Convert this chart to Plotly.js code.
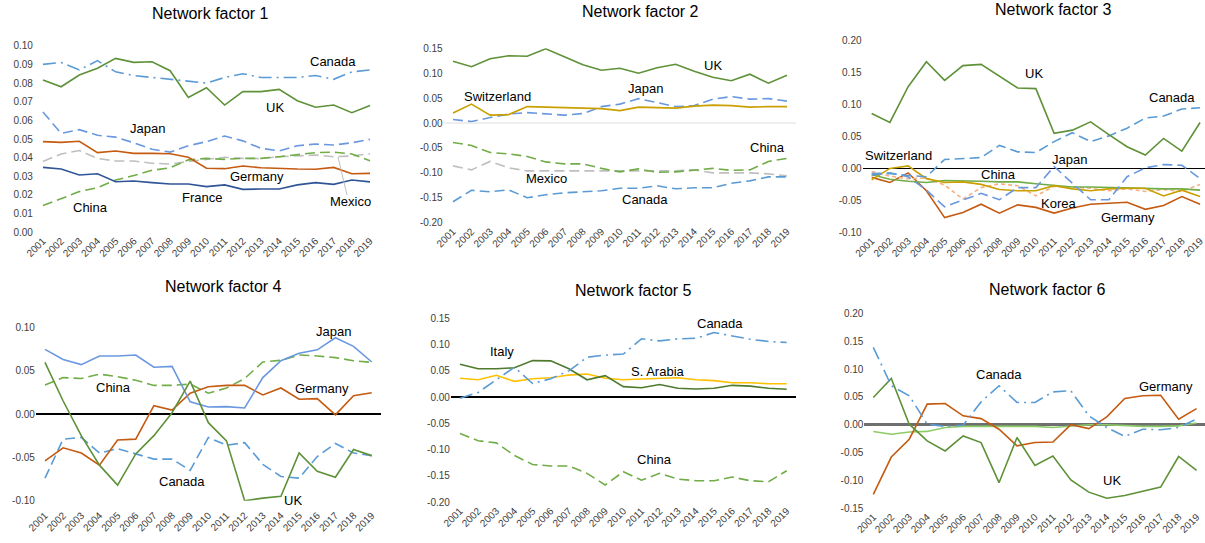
<!DOCTYPE html>
<html>
<head>
<meta charset="utf-8">
<script src="https://cdn.plot.ly/plotly-3.0.1.min.js"></script>
<style>html,body{margin:0;padding:0;background:#fff;}#chart{width:1205px;height:543px;}</style>
</head>
<body>
<div id="chart"></div>
<script>
// ---------- Data ----------
const years = [2001,2002,2003,2004,2005,2006,2007,2008,2009,2010,2011,2012,2013,2014,2015,2016,2017,2018,2019];
const yearLabels = ["2001","2002","2003","2004","2005","2006","2007","2008","2009","2010","2011","2012","2013","2014","2015","2016","2017","2018","2019"];

// Network factor 1
const f1Canada  = [0.090,0.091,0.087,0.092,0.086,0.084,0.083,0.082,0.081,0.080,0.083,0.085,0.083,0.083,0.083,0.084,0.082,0.086,0.087];
const f1UK      = [0.0816,0.078,0.0843,0.0879,0.0932,0.0911,0.0914,0.0866,0.0723,0.0775,0.0682,0.0754,0.0754,0.0766,0.0705,0.067,0.0682,0.0641,0.068];
const f1Japan   = [0.0645,0.053,0.055,0.052,0.051,0.048,0.0445,0.043,0.0464,0.0486,0.0516,0.049,0.045,0.0436,0.0464,0.0473,0.0468,0.048,0.0498];
const f1Germany = [0.0486,0.0482,0.0488,0.0427,0.0436,0.0423,0.0423,0.0421,0.0402,0.0343,0.0341,0.0355,0.0346,0.0341,0.0339,0.0338,0.0348,0.0314,0.0316];
const f1Mexico  = [0.038,0.042,0.0438,0.0396,0.0382,0.0382,0.037,0.0366,0.0379,0.0391,0.0402,0.0396,0.0395,0.0405,0.0409,0.0414,0.0405,0.0409,0.0421];
const f1China   = [0.0143,0.0179,0.0218,0.0239,0.028,0.0304,0.0332,0.0346,0.0388,0.0396,0.0391,0.0396,0.0396,0.0405,0.0414,0.0427,0.043,0.042,0.0384];
const f1France  = [0.0348,0.0339,0.0307,0.0314,0.0271,0.0275,0.0266,0.0259,0.0259,0.0245,0.0254,0.023,0.0232,0.0232,0.0254,0.0266,0.0257,0.028,0.027];

// Network factor 2
const f2UK          = [0.124,0.113,0.129,0.135,0.134,0.149,0.133,0.117,0.106,0.110,0.100,0.111,0.118,0.104,0.092,0.085,0.098,0.080,0.096];
const f2Switzerland = [0.020,0.038,0.016,0.017,0.033,0.032,0.031,0.031,0.029,0.025,0.032,0.031,0.030,0.034,0.036,0.035,0.032,0.033,0.033];
const f2Japan       = [0.007,0.003,0.011,0.018,0.021,0.018,0.016,0.019,0.033,0.038,0.049,0.041,0.033,0.035,0.048,0.053,0.048,0.049,0.044];
const f2China       = [-0.039,-0.045,-0.059,-0.062,-0.067,-0.078,-0.082,-0.082,-0.091,-0.098,-0.092,-0.099,-0.098,-0.094,-0.091,-0.095,-0.094,-0.077,-0.071];
const f2Mexico      = [-0.086,-0.094,-0.077,-0.090,-0.096,-0.096,-0.096,-0.096,-0.096,-0.096,-0.096,-0.096,-0.096,-0.094,-0.100,-0.100,-0.100,-0.102,-0.106];
const f2Canada      = [-0.158,-0.135,-0.138,-0.134,-0.150,-0.144,-0.140,-0.138,-0.136,-0.131,-0.131,-0.126,-0.132,-0.130,-0.130,-0.121,-0.116,-0.108,-0.108];

// Network factor 3
const f3UK          = [0.086,0.072,0.128,0.167,0.138,0.161,0.163,0.144,0.126,0.125,0.055,0.060,0.073,0.053,0.034,0.021,0.047,0.027,0.072];
const f3Canada      = [-0.010,-0.008,-0.011,-0.013,0.014,0.015,0.017,0.036,0.026,0.025,0.042,0.056,0.042,0.051,0.063,0.079,0.082,0.093,0.095];
const f3Japan       = [-0.008,-0.007,-0.013,-0.034,-0.060,-0.050,-0.039,-0.049,-0.030,-0.030,0.003,-0.023,-0.049,-0.049,-0.013,0.001,0.006,0.005,-0.016];
const f3China       = [-0.010,-0.017,-0.020,-0.022,-0.019,-0.019,-0.020,-0.021,-0.021,-0.024,-0.027,-0.029,-0.029,-0.030,-0.031,-0.031,-0.032,-0.032,-0.034];
const f3Switzerland = [-0.018,0.000,0.004,-0.016,-0.022,-0.021,-0.025,-0.033,-0.035,-0.035,-0.027,-0.032,-0.035,-0.032,-0.031,-0.031,-0.043,-0.034,-0.044];
const f3Korea       = [-0.005,-0.012,-0.016,-0.015,-0.026,-0.048,-0.030,-0.024,-0.027,-0.043,-0.028,-0.030,-0.031,-0.035,-0.032,-0.036,-0.033,-0.036,-0.025];
const f3Germany     = [-0.014,-0.022,-0.007,-0.035,-0.077,-0.069,-0.056,-0.070,-0.057,-0.061,-0.070,-0.062,-0.056,-0.054,-0.053,-0.064,-0.058,-0.044,-0.056];

// Network factor 4
const f4Japan   = [0.0746,0.063,0.057,0.067,0.067,0.068,0.054,0.055,0.014,0.008,0.0085,0.007,0.042,0.0615,0.070,0.074,0.088,0.078,0.060];
const f4China   = [0.0335,0.042,0.041,0.046,0.043,0.039,0.033,0.033,0.0345,0.024,0.030,0.041,0.060,0.062,0.068,0.067,0.065,0.0615,0.0595];
const f4Germany = [-0.054,-0.039,-0.045,-0.059,-0.030,-0.029,0.0096,0.0046,0.024,0.0315,0.033,0.033,0.022,0.030,0.017,0.0177,-0.001,0.021,0.0246];
const f4UK      = [0.0596,0.015,-0.025,-0.059,-0.082,-0.046,-0.025,0.0015,0.038,-0.010,-0.031,-0.100,-0.097,-0.095,-0.045,-0.066,-0.073,-0.041,-0.048];
const f4Canada  = [-0.074,-0.029,-0.027,-0.045,-0.040,-0.046,-0.052,-0.052,-0.065,-0.027,-0.036,-0.033,-0.058,-0.072,-0.074,-0.049,-0.034,-0.045,-0.048];

// Network factor 5
const f5Canada   = [-0.002,0.009,0.033,0.057,0.026,0.035,0.050,0.076,0.080,0.082,0.111,0.107,0.111,0.112,0.123,0.116,0.110,0.106,0.104];
const f5Italy    = [0.0625,0.054,0.054,0.056,0.0695,0.069,0.054,0.033,0.041,0.020,0.018,0.024,0.017,0.0155,0.017,0.0225,0.021,0.017,0.015];
const f5SArabia  = [0.036,0.033,0.0415,0.030,0.035,0.037,0.042,0.044,0.036,0.033,0.0345,0.036,0.037,0.033,0.0315,0.0275,0.0275,0.0255,0.0255];
const f5China    = [-0.069,-0.083,-0.087,-0.111,-0.128,-0.131,-0.131,-0.145,-0.167,-0.142,-0.158,-0.145,-0.156,-0.159,-0.159,-0.152,-0.159,-0.161,-0.140];

// Network factor 6
const f6Canada  = [0.139,0.070,0.052,0.001,-0.003,-0.001,0.041,0.070,0.040,0.040,0.059,0.061,0.016,-0.005,-0.021,-0.008,-0.009,-0.005,0.010];
const f6Germany = [-0.125,-0.058,-0.026,0.037,0.038,0.016,0.011,-0.008,-0.038,-0.032,-0.031,0.000,-0.007,0.014,0.047,0.052,0.053,0.010,0.029];
const f6UK      = [0.049,0.083,0.001,-0.029,-0.047,-0.020,-0.032,-0.104,-0.023,-0.073,-0.056,-0.099,-0.121,-0.132,-0.127,-0.120,-0.112,-0.057,-0.082];
const f6Other   = [-0.012,-0.017,-0.013,-0.012,-0.005,-0.003,-0.003,-0.003,-0.003,-0.003,-0.005,-0.002,0.000,0.000,-0.002,-0.003,-0.003,-0.002,0.003];

// Tick labels
const ticks1 = [0,0.01,0.02,0.03,0.04,0.05,0.06,0.07,0.08,0.09,0.10];
const ticks1Text = ["0.00","0.01","0.02","0.03","0.04","0.05","0.06","0.07","0.08","0.09","0.10"];
const ticks2 = [-0.20,-0.15,-0.10,-0.05,0,0.05,0.10,0.15];
const ticks2Text = ["-0.20","-0.15","-0.10","-0.05","0.00","0.05","0.10","0.15"];
const ticks3 = [-0.10,-0.05,0,0.05,0.10,0.15,0.20];
const ticks3Text = ["-0.10","-0.05","0.00","0.05","0.10","0.15","0.20"];
const ticks4 = [-0.10,-0.05,0,0.05,0.10];
const ticks4Text = ["-0.10","-0.05","0.00","0.05","0.10"];
const ticks6 = [-0.15,-0.10,-0.05,0,0.05,0.10,0.15,0.20];
const ticks6Text = ["-0.15","-0.10","-0.05","0.00","0.05","0.10","0.15","0.20"];

// ---------- Styles ----------
const C = {
  canada: '#5B9BD5', ukGreen: '#5E9138', chinaGreen: '#70AD47', germany: '#C55A11',
  mexico: '#BFBFBF', france: '#2F5597', japan: '#6A98E0', swiss: '#C9A000',
  korea: '#F4B183', sarabia: '#FFC000', italy: '#4E7A2E', lightGreen: '#8CCB66'
};
const DASH = '10px,5px';
const SHORTDASH = '4px,3px';
const DASHDOT = '13px,5px,2px,5px';
const W = 1.6;
function tr(n, y, color, dash) {
  return {x: years, y: y, xaxis: 'x' + (n === 1 ? '' : n), yaxis: 'y' + (n === 1 ? '' : n),
    type: 'scatter', mode: 'lines', line: {color: color, width: W, dash: dash || 'solid'},
    hoverinfo: 'skip', showlegend: false};
}

const traces = [
  tr(1, f1Mexico, C.mexico, DASH),
  tr(1, f1China, C.chinaGreen, DASH),
  tr(1, f1France, C.france),
  tr(1, f1Germany, C.germany),
  tr(1, f1Japan, C.japan, DASH),
  tr(1, f1UK, C.ukGreen),
  tr(1, f1Canada, C.canada, DASHDOT),

  tr(2, f2Mexico, C.mexico, DASH),
  tr(2, f2China, C.chinaGreen, DASH),
  tr(2, f2Canada, C.canada, DASH),
  tr(2, f2Japan, C.japan, DASH),
  tr(2, f2Switzerland, C.swiss),
  tr(2, f2UK, C.ukGreen),

  tr(3, f3Germany, C.germany),
  tr(3, f3Korea, C.korea, SHORTDASH),
  tr(3, f3China, C.chinaGreen),
  tr(3, f3Switzerland, C.swiss),
  tr(3, f3Japan, C.japan, DASH),
  tr(3, f3Canada, C.canada, DASH),
  tr(3, f3UK, C.ukGreen),

  tr(4, f4China, C.chinaGreen, DASH),
  tr(4, f4Canada, C.canada, DASH),
  tr(4, f4Germany, C.germany),
  tr(4, f4Japan, C.japan),
  tr(4, f4UK, C.ukGreen),

  tr(5, f5China, C.chinaGreen, DASH),
  tr(5, f5SArabia, C.sarabia),
  tr(5, f5Italy, C.italy),
  tr(5, f5Canada, C.canada, DASHDOT),

  tr(6, f6Other, C.lightGreen),
  tr(6, f6Germany, C.germany),
  tr(6, f6UK, C.ukGreen),
  tr(6, f6Canada, C.canada, DASHDOT)
];

const tickFont = {family: 'Liberation Sans, Arial, sans-serif', size: 10, color: '#404040'};
function xa(domain, range) {
  return {domain: domain, range: range || [2000.5, 2019.5], tickmode: 'array', tickvals: years, ticktext: yearLabels,
    tickangle: -45, showgrid: false, zeroline: false, showline: false, ticks: '', tickfont: tickFont,
    ticklabeloverflow: 'allow', fixedrange: true};
}
function ya(n, domain, range, tv, tt, zl) {
  const a = {domain: domain, range: range, tickmode: 'array', tickvals: tv, ticktext: tt,
    showgrid: false, showline: false, ticks: '', tickfont: tickFont, fixedrange: true,
    anchor: 'x' + (n === 1 ? '' : n)};
  if (zl) { a.zeroline = true; a.zerolinecolor = zl.color; a.zerolinewidth = zl.width; }
  else a.zeroline = false;
  return a;
}

const layout = {
  width: 1205, height: 543, margin: {l: 0, r: 0, t: 0, b: 0},
  paper_bgcolor: '#fff', plot_bgcolor: 'rgba(0,0,0,0)', showlegend: false,
  font: {family: 'Liberation Sans, Arial, sans-serif', color: '#000'},
  xaxis:  Object.assign(xa([0.0281, 0.3146]), {anchor: 'y'}),
  xaxis2: Object.assign(xa([0.3682, 0.6608]), {anchor: 'y2'}),
  xaxis3: Object.assign(xa([0.7158, 1.0], [2000.5, 2019.27]), {anchor: 'y3'}),
  xaxis4: Object.assign(xa([0.0298, 0.3160]), {anchor: 'y4', ticklabelstandoff: 6}),
  xaxis5: Object.assign(xa([0.3742, 0.6604]), {anchor: 'y5'}),
  xaxis6: Object.assign(xa([0.7173, 1.0], [2000.5, 2019.47]), {anchor: 'y6'}),
  yaxis:  ya(1, [0.5722, 0.9158], [0, 0.10], ticks1, ticks1Text, null),
  yaxis2: ya(2, [0.5899, 0.9110], [-0.20, 0.15], ticks2, ticks2Text, {color: '#eeeeee', width: 2}),
  yaxis3: ya(3, [0.5722, 0.9250], [-0.10, 0.20], ticks3, ticks3Text, {color: '#000000', width: 1.5}),
  yaxis4: ya(4, [0.0779, 0.3972], [-0.10, 0.10], ticks4, ticks4Text, {color: '#000000', width: 1.5}),
  yaxis5: ya(5, [0.0750, 0.4138], [-0.20, 0.15], ticks2, ticks2Text, {color: '#000000', width: 1.5}),
  yaxis6: ya(6, [0.0639, 0.4230], [-0.15, 0.20], ticks6, ticks6Text, {color: '#6f6f6f', width: 2.5}),
  annotations: [],
  shapes: []
};

function px(text, x, y, size) {
  return {text: text, x: x / 1205, y: 1 - y / 543, xref: 'paper', yref: 'paper',
    xanchor: 'center', yanchor: 'middle', showarrow: false,
    font: {family: 'Liberation Sans, Arial, sans-serif', size: size || 13, color: '#000'}};
}
const titles = [
  ['Network factor 1', 210, 13], ['Network factor 2', 640, 12], ['Network factor 3', 1053, 10],
  ['Network factor 4', 223, 286], ['Network factor 5', 633, 290], ['Network factor 6', 1047, 289]
];
titles.forEach(t => layout.annotations.push(px(t[0], t[1], t[2], 16)));

const labels = [
  ['Canada', 333, 61], ['UK', 275, 107], ['Japan', 147, 129], ['Germany', 257, 176],
  ['France', 202, 197], ['China', 90, 207], ['Mexico', 350, 202],
  ['UK', 713, 65], ['Japan', 645, 88], ['Switzerland', 498, 96], ['China', 767, 147],
  ['Mexico', 546, 179], ['Canada', 645, 200],
  ['UK', 1034, 74], ['Canada', 1172, 97], ['Switzerland', 898, 155], ['Japan', 1069, 159],
  ['China', 998, 175], ['Korea', 1058, 203], ['Germany', 1128, 217],
  ['Japan', 333, 331], ['China', 113, 387], ['Germany', 322, 388], ['Canada', 182, 481], ['UK', 293, 500],
  ['Canada', 720, 323], ['Italy', 502, 351], ['S. Arabia', 658, 371], ['China', 654, 459],
  ['Canada', 999, 374], ['Germany', 1166, 386], ['UK', 1112, 480]
];
labels.forEach(l => layout.annotations.push(px(l[0], l[1], l[2], 13)));

// Leader line for the Mexico label in panel 1
layout.shapes.push({type: 'line', xref: 'paper', yref: 'paper',
  x0: 338 / 1205, y0: 1 - 157 / 543, x1: 347 / 1205, y1: 1 - 195 / 543,
  line: {color: '#BFBFBF', width: 1}});

Plotly.newPlot('chart', traces, layout, {staticPlot: true, displayModeBar: false});
</script>
</body>
</html>
